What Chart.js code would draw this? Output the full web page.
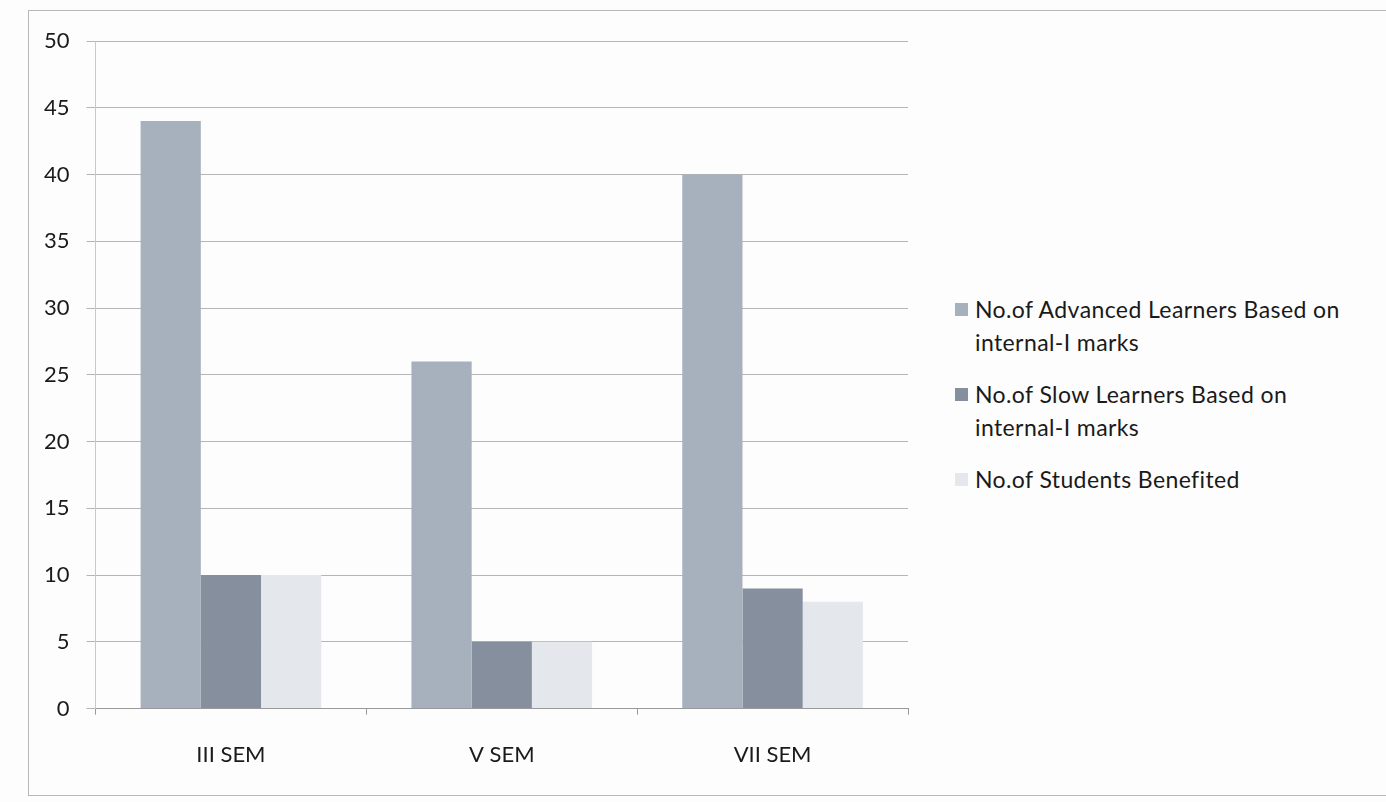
<!DOCTYPE html>
<html>
<head>
<meta charset="utf-8">
<script src="https://cdn.jsdelivr.net/npm/chart.js@4.4.1/dist/chart.umd.min.js"></script>
<style>
  html, body { margin: 0; padding: 0; background: #fdfdfd; }
  #frame { position: absolute; left: 28px; top: 10px; width: 1370px; height: 786px; border: 1px solid #b8b8b8; box-sizing: border-box; }
  #wrap { position: absolute; left: 0; top: 0; width: 930px; height: 802px; }
  #legend { position: absolute; left: 953px; top: 293px; width: 430px; font-family: Lato, "Open Sans", sans-serif; font-size: 23px; letter-spacing: 0.4px; color: #1a1a1a; }
  #legend .item { position: relative; padding-left: 22px; line-height: 33px; margin-bottom: 19px; }
  #legend .box { position: absolute; left: 2px; top: 10px; width: 13px; height: 13px; }
</style>
</head>
<body>
<div id="frame"></div>
<div id="wrap"><canvas id="c"></canvas></div>
<div id="legend"></div>
<script>
// data
const categories = ['III SEM', 'V SEM', 'VII SEM'];
const advanced = [44, 26, 40];
const slow = [10, 5, 9];
const benefited = [10, 5, 8];
const seriesNames = [
  'No.of Advanced Learners Based on internal-I marks',
  'No.of Slow Learners Based on internal-I marks',
  'No.of Students Benefited'
];
const seriesColors = ['#a7b0bd', '#858f9e', '#e4e7ec'];
const yTicks = [0, 5, 10, 15, 20, 25, 30, 35, 40, 45, 50];

const series = [advanced, slow, benefited];
const fontFam = 'Lato, "Open Sans", sans-serif';
const ctx = document.getElementById('c');
new Chart(ctx, {
  type: 'bar',
  data: {
    labels: categories,
    datasets: series.map((d, i) => ({ label: seriesNames[i], data: d, backgroundColor: seriesColors[i], borderWidth: 0 }))
  },
  options: {
    responsive: true,
    maintainAspectRatio: false,
    animation: false,
    layout: { padding: { left: 27, right: 22, top: 41, bottom: 7 } },
    plugins: { legend: { display: false }, tooltip: { enabled: false } },
    datasets: { bar: { barPercentage: 1, categoryPercentage: 0.667 } },
    scales: {
      x: {
        grid: { display: true, drawOnChartArea: false, offset: true, color: '#999', tickLength: 6 },
        border: { color: '#999' },
        ticks: { color: '#1a1a1a', font: { family: fontFam, size: 22 }, padding: 27 }
      },
      y: {
        min: 0, max: 50,
        afterBuildTicks: s => { s.ticks = yTicks.map(v => ({ value: v })); },
        grid: { color: '#b5b5b5', drawTicks: true, tickLength: 9 },
        border: { color: '#c8c8c8' },
        ticks: { color: '#1a1a1a', font: { family: fontFam, size: 22 }, padding: 17 }
      }
    }
  }
});

// html legend, wraps like the original
const lg = document.getElementById('legend');
lg.innerHTML = seriesNames.map((n, i) =>
  `<div class="item"><span class="box" style="background:${seriesColors[i]}"></span>${n.replace('on internal', 'on<br>internal')}</div>`).join('');
</script>
</body>
</html>
